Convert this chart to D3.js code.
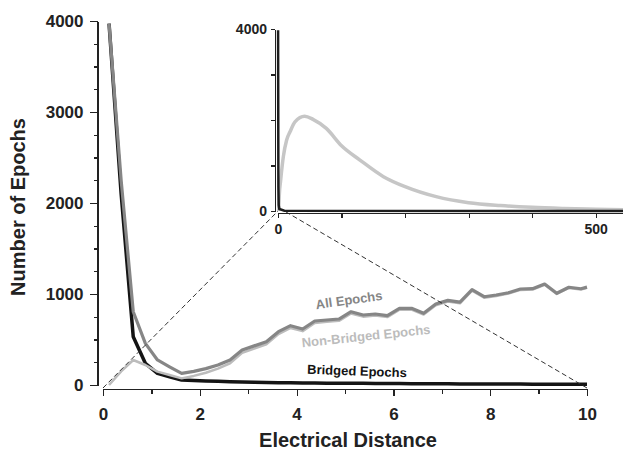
<!DOCTYPE html>
<html>
<head>
<meta charset="utf-8">
<script src="https://cdn.jsdelivr.net/npm/d3@7"></script>
<style>
  body { margin: 0; background: #fff; }
  svg { font-family: "Liberation Sans", Arial, sans-serif; font-weight: bold; }
  .axis path, .axis line { stroke: #222; stroke-width: 1.2; shape-rendering: crispEdges; }
  .axis text { fill: #222; font-weight: bold; }
</style>
</head>
<body>
<div id="chart"></div>
<script>
// bin centres (electrical distance)
const distance = [0.125, 0.375, 0.625, 0.875, 1.125, 1.375, 1.625, 1.875, 2.125, 2.375,
    2.625, 2.875, 3.125, 3.375, 3.625, 3.875, 4.125, 4.375, 4.625, 4.875,
    5.125, 5.375, 5.625, 5.875, 6.125, 6.375, 6.625, 6.875, 7.125, 7.375,
    7.625, 7.875, 8.125, 8.375, 8.625, 8.875, 9.125, 9.375, 9.625, 9.875, 10];

const allEpochs = [3970, 2250, 805, 458, 275, 200, 128, 150, 180, 220,
    275, 385, 430, 476, 586, 652, 615, 703, 714, 725,
    805, 769, 780, 762, 843, 843, 788, 890, 930, 910,
    1048, 970, 989, 1014, 1055, 1058, 1110, 1008, 1074, 1058, 1075];

const bridged = [3970, 2100, 530, 238, 128, 90, 55, 50, 45, 40,
    36, 32, 30, 28, 26, 25, 23, 22, 20, 20,
    19, 18, 17, 16, 16, 15, 14, 14, 13, 12,
    12, 11, 11, 10, 10, 9, 9, 8, 8, 8, 8];

const nonBridged = [0, 150, 275, 220, 147, 110, 73, 100, 135, 180,
    239, 353, 400, 448, 560, 627, 592, 681, 694, 705,
    786, 751, 763, 746, 827, 828, 774, 876, 917, 898,
    1036, 959, 978, 1004, 1045, 1049, 1101, 1000, 1066, 1050, 1067];

// inset: full distance range
const insetDistance = [1, 2, 4.2, 8.4, 13.6, 18.9, 26.7, 42, 55, 76, 100, 129, 166, 200, 249, 300, 350, 400, 450, 500, 543];
const insetNonBridged = [0, 350, 680, 1195, 1560, 1740, 1960, 2080, 2015, 1815, 1435, 1120, 755, 535, 315, 183, 120, 80, 55, 37, 25];
const insetBridgedDistance = [0.125, 0.625, 1.125, 2.125, 10, 543];
const insetBridged = [3970, 530, 128, 45, 8, 0];

const mainYTicks = [0, 1000, 2000, 3000, 4000];
const mainXTicks = [0, 2, 4, 6, 8, 10];
const insetYTicks = [0, 4000];
const insetXTicks = [0, 500];

const width = 623, height = 452;

const svg = d3.select("#chart").append("svg")
    .attr("width", width)
    .attr("height", height);

// main scales
const x = d3.scaleLinear().domain([0, 10]).range([103, 587]);
const y = d3.scaleLinear().domain([0, 4000]).range([385, 21]);
const xAxisY = 389, yAxisX = 97.5;

// inset scales
const ix = d3.scaleLinear().domain([0, 543]).range([278, 623]);
const iy = d3.scaleLinear().domain([0, 4000]).range([211, 29]);
const ixAxisY = 213, iyAxisX = 275;

const fmt = d3.format("d");

// --- main axes
svg.append("g").attr("class", "axis")
    .attr("transform", `translate(${yAxisX},0)`)
    .call(d3.axisLeft(y).tickValues(d3.range(0, 4001, 250)).tickSize(4).tickSizeOuter(0).tickFormat(""));
svg.append("g").attr("class", "axis")
    .attr("transform", `translate(${yAxisX},0)`)
    .call(d3.axisLeft(y).tickValues(mainYTicks).tickSize(8).tickPadding(6).tickSizeOuter(0).tickFormat(fmt))
    .call(g => g.select(".domain").remove())
    .selectAll("text").style("font-size", "17px");

svg.append("g").attr("class", "axis")
    .attr("transform", `translate(0,${xAxisY})`)
    .call(d3.axisBottom(x).tickValues(d3.range(0, 11, 1)).tickSize(5).tickSizeOuter(0).tickFormat(""));
svg.append("g").attr("class", "axis")
    .attr("transform", `translate(0,${xAxisY})`)
    .call(d3.axisBottom(x).tickValues(mainXTicks).tickSize(7).tickPadding(12).tickSizeOuter(0).tickFormat(fmt))
    .call(g => g.select(".domain").remove())
    .selectAll("text").style("font-size", "17px");

svg.append("text")
    .attr("text-anchor", "middle")
    .attr("transform", "translate(25,207) rotate(-90)")
    .style("font-size", "20px")
    .attr("fill", "#222")
    .text("Number of Epochs");

svg.append("text")
    .attr("text-anchor", "middle")
    .attr("x", 348)
    .attr("y", 447)
    .style("font-size", "20px")
    .attr("fill", "#222")
    .text("Electrical Distance");

// --- main series
const line = d3.line().x(d => x(d[0])).y(d => y(d[1]));

svg.append("path")
    .datum(d3.zip(distance, bridged))
    .attr("fill", "none").attr("stroke", "#141414").attr("stroke-width", 3.5)
    .attr("stroke-linejoin", "round")
    .attr("d", line);
svg.append("path")
    .datum(d3.zip(distance, nonBridged))
    .attr("fill", "none").attr("stroke", "#bcbcbc").attr("stroke-width", 2.5)
    .attr("stroke-linejoin", "round")
    .attr("d", line);
svg.append("path")
    .datum(d3.zip(distance, allEpochs))
    .attr("fill", "none").attr("stroke", "#868686").attr("stroke-width", 3.2)
    .attr("stroke-linejoin", "round")
    .attr("d", line);

// series labels
const labels = [
    { text: "All Epochs", cx: 349, cy: 300, rot: -8, color: "#868686" },
    { text: "Non-Bridged Epochs", cx: 366, cy: 336, rot: -6, color: "#bcbcbc" },
    { text: "Bridged Epochs", cx: 357, cy: 371, rot: 2, color: "#141414" }
];
svg.selectAll(".series-label")
    .data(labels)
    .enter()
    .append("text")
    .attr("class", "series-label")
    .attr("text-anchor", "middle")
    .attr("dominant-baseline", "central")
    .attr("transform", d => `translate(${d.cx},${d.cy}) rotate(${d.rot})`)
    .style("font-size", "13px")
    .attr("fill", d => d.color)
    .text(d => d.text);

// --- zoom guide lines
const guides = [[0, 0], [10, 10]];
svg.selectAll(".guide")
    .data(guides)
    .enter()
    .append("line")
    .attr("class", "guide")
    .attr("x1", d => x(d[0])).attr("y1", xAxisY - 1)
    .attr("x2", d => ix(d[1])).attr("y2", iy(0))
    .attr("stroke", "#333").attr("stroke-width", 1)
    .attr("stroke-dasharray", "5,3");

// --- inset
svg.append("g").attr("class", "axis")
    .attr("transform", `translate(${iyAxisX},0)`)
    .call(d3.axisLeft(iy).tickValues(d3.range(0, 4001, 1000)).tickSize(4).tickSizeOuter(0).tickFormat(""));
svg.append("g").attr("class", "axis")
    .attr("transform", `translate(${iyAxisX},0)`)
    .call(d3.axisLeft(iy).tickValues(insetYTicks).tickSize(4).tickPadding(4).tickSizeOuter(0).tickFormat(fmt))
    .call(g => g.select(".domain").remove())
    .selectAll("text").style("font-size", "14px");

svg.append("g").attr("class", "axis")
    .attr("transform", `translate(0,${ixAxisY})`)
    .call(d3.axisBottom(ix).tickValues(d3.range(0, 501, 100)).tickSize(5).tickSizeOuter(0).tickFormat(""));
svg.append("g").attr("class", "axis")
    .attr("transform", `translate(0,${ixAxisY})`)
    .call(d3.axisBottom(ix).tickValues(insetXTicks).tickSize(5).tickPadding(6).tickSizeOuter(0).tickFormat(fmt))
    .call(g => g.select(".domain").remove())
    .selectAll("text").style("font-size", "14px");

const iline = d3.line().x(d => ix(d[0])).y(d => iy(d[1])).curve(d3.curveMonotoneX);

svg.append("path")
    .datum(d3.zip(insetDistance, insetNonBridged))
    .attr("fill", "none").attr("stroke", "#c6c6c6").attr("stroke-width", 3.5)
    .attr("d", iline);
svg.append("path")
    .datum(d3.zip(insetBridgedDistance, insetBridged))
    .attr("fill", "none").attr("stroke", "#1e1e1e").attr("stroke-width", 2.5)
    .attr("d", d3.line().x(d => ix(d[0])).y(d => iy(d[1])));
</script>
</body>
</html>
